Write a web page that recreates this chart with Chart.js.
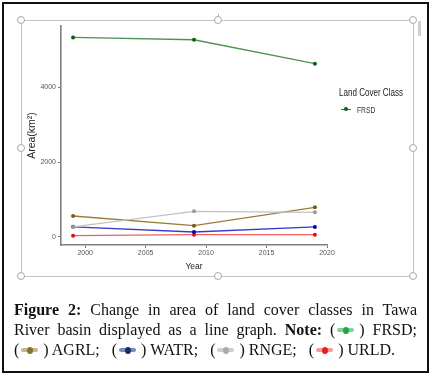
<!DOCTYPE html>
<html><head><meta charset="utf-8">
<script src="https://cdn.jsdelivr.net/npm/chart.js@4"></script>
<style>
body{margin:0;width:432px;height:377px;overflow:hidden;background:#fff;position:relative;font-family:"Liberation Sans",Arial,sans-serif;}
#outer{position:absolute;left:2px;top:2px;width:427px;height:371px;box-sizing:border-box;border:2px solid #111;}
#sel{position:absolute;left:21px;top:20px;width:393px;height:257px;box-sizing:border-box;border:1px solid #c4c4c4;}
.h{position:absolute;width:6px;height:6px;border:1px solid #a8a8a8;border-radius:50%;background:#fff;margin:-4px 0 0 -4px;}
#rot{position:absolute;left:218px;top:14px;width:1px;height:6px;background:#b0b0b0;}
#scroll{position:absolute;left:418px;top:21px;width:3px;height:15px;background:#cfcfcf;}
canvas{position:absolute;left:0;top:0;}
#legT{position:absolute;left:339px;top:86px;font:11.5px "Liberation Sans",Arial,sans-serif;color:#222;white-space:nowrap;transform:scaleX(0.70);transform-origin:0 0;}
#legE{position:absolute;left:341px;top:105px;font:9px "Liberation Sans",Arial,sans-serif;color:#333;white-space:nowrap;}
#legE .ln{display:inline-block;width:10px;height:1.3px;background:#2f7d2f;vertical-align:middle;position:relative;margin-right:6px;top:-1px}
#legE .ln:after{content:"";position:absolute;left:3px;top:-1.5px;width:4px;height:4px;border-radius:50%;background:#0b5e0b;}
#legE .t{display:inline-block;transform:scaleX(0.75);transform-origin:0 50%;}
#cap{position:absolute;left:14px;top:300px;width:403px;font:16px "Liberation Serif","Times New Roman",serif;color:#111;line-height:20px;}
#cap div{white-space:nowrap;}
#cap .j{text-align:justify;text-align-last:justify;white-space:normal;}
.ic{display:inline-block;width:17px;height:4px;border-radius:2px;vertical-align:middle;position:relative;margin:0 5px 0 2px;top:-1px;}
.ic i{position:absolute;left:5.5px;top:-1.5px;width:6px;height:7px;border-radius:50%;}
.g{margin-right:8px;}
</style></head><body>
<div id="outer"></div>
<div id="sel"></div>
<div id="rot"></div>
<div class="h" style="left:21px;top:20px"></div>
<div class="h" style="left:218px;top:20px"></div>
<div class="h" style="left:413px;top:20px"></div>
<div class="h" style="left:21px;top:148px"></div>
<div class="h" style="left:413px;top:148px"></div>
<div class="h" style="left:21px;top:276px"></div>
<div class="h" style="left:218px;top:276px"></div>
<div class="h" style="left:413px;top:276px"></div>
<div id="scroll"></div>
<canvas id="c" width="432" height="377"></canvas>
<div id="legT">Land Cover Class</div>
<div id="legE"><span class="ln"></span><span class="t">FRSD</span></div>
<div id="cap">
<div class="j"><b>Figure 2:</b> Change in area of land cover classes in Tawa</div>
<div class="j">River basin displayed as a line graph. <b>Note:</b> (<span class="ic" style="background:#7fd396"><i style="background:#1fa844"></i></span>) FRSD;</div>
<div><span class="g">(<span class="ic" style="background:#c2b68c"><i style="background:#85722f"></i></span>) AGRL;</span> <span class="g">(<span class="ic" style="background:#7d8bb8"><i style="background:#142a72"></i></span>) WATR;</span> <span class="g">(<span class="ic" style="background:#cfcfcf"><i style="background:#aaaaaa"></i></span>) RNGE;</span> (<span class="ic" style="background:#f59a9a"><i style="background:#ea1c1c"></i></span>) URLD.</div>
</div>
<script>
const years=[1999,2009,2019];
const FRSD=[5335,5272,4632];
const AGRL=[560,302,792];
const RNGE=[267,685,659];
const WATR=[270,133,267];
const URLD=[35,61,61];
const xTicks=[2000,2005,2010,2015,2020];
const yTicks=[0,2000,4000];

function ds(label,vals,line,pt){
  return {label,data:years.map((y,i)=>({x:y,y:vals[i]})),borderColor:line,backgroundColor:pt,
    pointBackgroundColor:pt,pointBorderColor:pt,pointRadius:2,pointBorderWidth:0,borderWidth:1.3,tension:0};
}
const fam='"Liberation Sans",Arial,sans-serif';
new Chart(document.getElementById('c'),{
  type:'line',
  data:{datasets:[
    ds('FRSD',FRSD,'#4e944e','#0b5e0b'),
    ds('RNGE',RNGE,'#c2c2c2','#9a9a9a'),
    ds('AGRL',AGRL,'#9c7b3c','#7a5a14'),
    ds('WATR',WATR,'#3a3ad0','#0000b0'),
    ds('URLD',URLD,'#f06060','#e01010')
  ]},
  options:{
    responsive:false,animation:false,
    layout:{padding:{left:26,top:26,right:105,bottom:105}},
    plugins:{legend:{display:false},tooltip:{enabled:false}},
    scales:{
      x:{type:'linear',min:1998,max:2020,
        afterBuildTicks:s=>{s.ticks=xTicks.map(v=>({value:v}));},
        afterFit:s=>{s.height=27;},
        ticks:{callback:v=>String(v),color:'#555',font:{size:7,family:fam},padding:1,maxRotation:0},
        grid:{drawOnChartArea:false,drawTicks:true,tickLength:3,color:'#777',tickWidth:1},
        border:{display:true,color:'#808080',width:1.6},
        title:{display:true,text:'Year',color:'#222',font:{size:8.5,family:fam},padding:0}
      },
      y:{type:'linear',min:-215,max:5640,
        afterBuildTicks:s=>{s.ticks=yTicks.map(v=>({value:v}));},
        afterFit:s=>{s.width=35;},
        ticks:{callback:v=>String(v),color:'#555',font:{size:7,family:fam},padding:2},
        grid:{drawOnChartArea:false,drawTicks:true,tickLength:3,color:'#777',tickWidth:1},
        border:{display:true,color:'#808080',width:1.6},
        title:{display:true,text:'Area(km²)',color:'#222',font:{size:10.5,family:fam},padding:0}
      }
    }
  }
});
</script>
</body></html>
